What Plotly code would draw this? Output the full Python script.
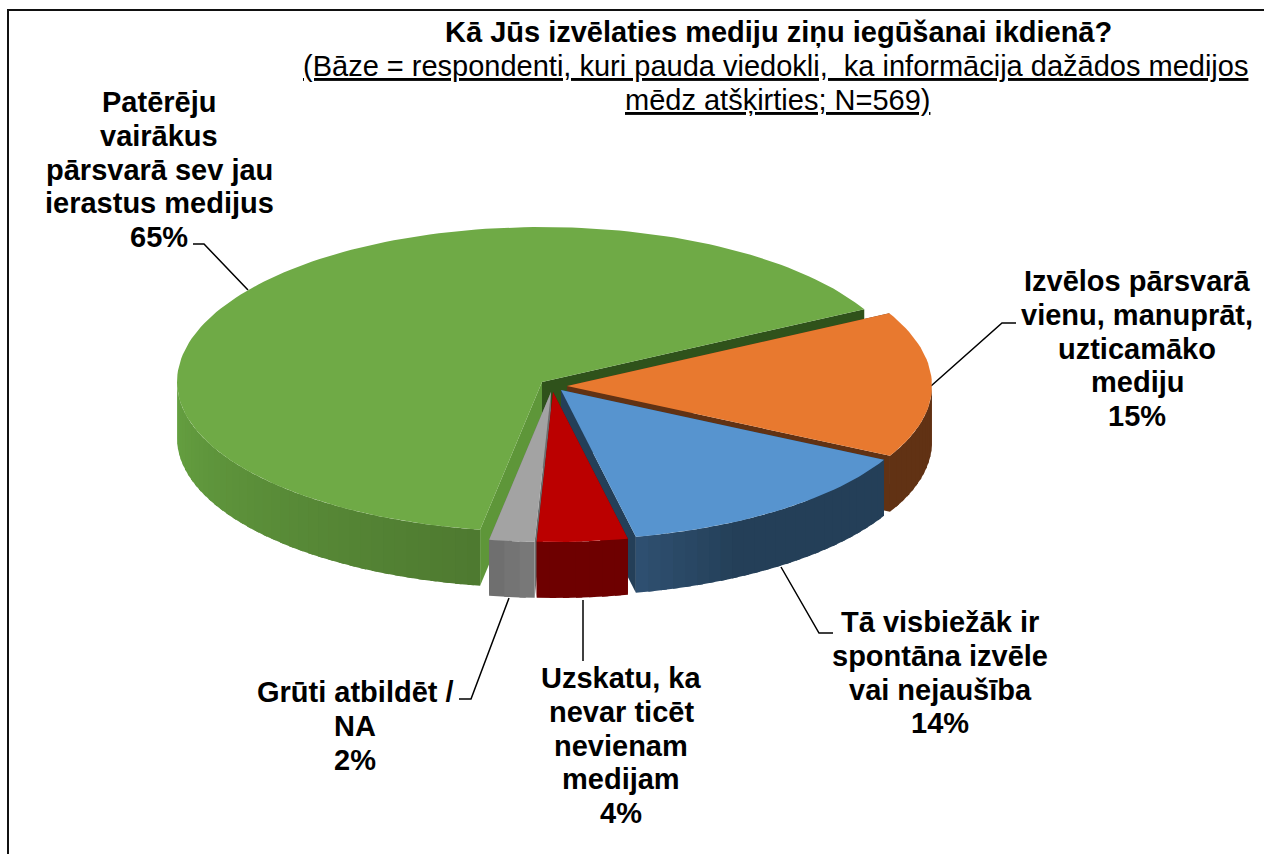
import math
import plotly.graph_objects as go

# ---- data -------------------------------------------------------------
categories = [
    "Izvēlos pārsvarā<br>vienu, manuprāt,<br>uzticamāko<br>mediju",
    "Tā visbiežāk ir<br>spontāna izvēle<br>vai nejaušība",
    "Uzskatu, ka<br>nevar ticēt<br>nevienam<br>medijam",
    "Grūti atbildēt /<br>NA",
    "Patērēju<br>vairākus<br>pārsvarā sev jau<br>ierastus medijus",
]
values = [15.49, 14.0, 4.0, 2.0, 64.51]
title_line = "Kā Jūs izvēlaties mediju ziņu iegūšanai ikdienā?"
subtitle_lines = ["(Bāze = respondenti, kuri pauda viedokli,  ka informācija dažādos medijos",
                  "mēdz atšķirties; N=569)"]

# ---- styles / layout --------------------------------------------------
W, H = 1264, 854
START_ANGLE = 28.0
A, B_FRONT, B_BACK, DEPTH = 365, 150, 155, 56
centres = [(567, 386), (561, 390), (553, 392), (551, 392), (542, 382)]
top_colors = ["#E8792F", "#5794CF", "#BB0000", "#A3A3A3", "#6FAA46"]
wall_left = ["#613214", "#2F5071", "#6E0000", "#6D6D6D", "#66A141"]
wall_right = ["#613214", "#243F58", "#6E0000", "#7A7A7A", "#4E7A30"]
wall_speed = [1, 3, 1, 1, 1]
face_start = ["#613214", "#243F58", "#6E0000", "#6D6D6D", "#5E9639"]
face_end = ["#613214", "#243F58", "#6E0000", "#6D6D6D", "#2F521B"]
draw_order = [4, 0, 1, 3, 2]
label_first_line = [(1137, 281), (940, 622), (621, 678), (355, 692), (159, 102)]
LINE_STEP = 33.8
leaders = [
    "M931,386 L1002,323 L1016,323",
    "M781,567 L819,633 L833,633",
    "M583,600 L583,661",
    "M509,598 L471,699 L459,699",
    "M193,244 L204,244 L248,290",
]
FONT = "Liberation Sans, Arial, sans-serif"
LABEL_SIZE = 29
TITLE_Y = 32


def rim(cx, cy, t):
    r = math.radians(t)
    s = math.sin(r)
    return cx + A * math.cos(r), cy - (B_BACK if s > 0 else B_FRONT) * s


def hex_mix(c1, c2, f):
    a = [int(c1[i:i + 2], 16) for i in (1, 3, 5)]
    b = [int(c2[i:i + 2], 16) for i in (1, 3, 5)]
    return "#%02X%02X%02X" % tuple(round(p + (q - p) * f) for p, q in zip(a, b))


def poly(xs, ys, color, name=None):
    return go.Scatter(
        x=xs, y=ys, mode="lines", fill="toself", fillcolor=color,
        line=dict(color=color, width=0),
        hoverinfo="skip" if name is None else "text",
        text=name, showlegend=False,
    )


# angle span of every slice, from the values
total = sum(values)
spans = []
angle = START_ANGLE
for v in values:
    next_angle = angle - 360 * v / total
    spans.append((angle, next_angle))
    angle = next_angle

fig = go.Figure()
for i in draw_order:
    cx, cy = centres[i]
    a0, a1 = spans[i]
    # cut faces
    for t, col in ((a0, face_start[i]), (a1, face_end[i])):
        rx, ry = rim(cx, cy, t)
        fig.add_trace(poly([cx, rx, rx, cx, cx], [cy, ry, ry + DEPTH, cy + DEPTH, cy], col))
    # outer wall (front half only), shaded left to right
    lo, hi = max(a1, -180), min(a0, 0)
    if hi > lo:
        n = max(1, int((hi - lo) / 2))
        for k in range(n):
            t0 = lo + (hi - lo) * k / n
            t1 = min(hi, lo + (hi - lo) * (k + 1) / n + 1.0)
            arc = [t0 + (t1 - t0) * j / 3 for j in range(4)]
            top = [rim(cx, cy, t) for t in arc]
            xs = [p[0] for p in top] + [p[0] for p in reversed(top)] + [top[0][0]]
            ys = [p[1] for p in top] + [p[1] + DEPTH for p in reversed(top)] + [top[0][1]]
            f = min(1.0, (k + 0.5) / n * wall_speed[i])
            fig.add_trace(poly(xs, ys, hex_mix(wall_left[i], wall_right[i], f)))
    # top surface
    steps = max(8, int((a0 - a1) / 1.5))
    pts = [rim(cx, cy, a0 - (a0 - a1) * j / steps) for j in range(steps + 1)]
    xs = [cx] + [p[0] for p in pts] + [cx]
    ys = [cy] + [p[1] for p in pts] + [cy]
    fig.add_trace(poly(xs, ys, top_colors[i],
                       f"{categories[i].replace('<br>', ' ')}: {round(values[i])}%"))


def text_line(x, y, text):
    return dict(x=x, y=y, xref="x", yref="y", xanchor="center", yanchor="middle",
                align="center", showarrow=False, text=text,
                font=dict(family=FONT, size=LABEL_SIZE, color="#000000"))


annotations = []
for cat, v, (lx, ly) in zip(categories, values, label_first_line):
    for k, line in enumerate(cat.split("<br>") + [f"{round(v)}%"]):
        annotations.append(text_line(lx, ly + k * LINE_STEP, f"<b>{line}</b>"))
annotations.append(text_line(778, TITLE_Y, f"<b>{title_line}</b>"))
annotations.append(text_line(775, TITLE_Y + LINE_STEP, f"<u>{subtitle_lines[0]}</u>"))
annotations.append(text_line(777, TITLE_Y + 2 * LINE_STEP, f"<u>{subtitle_lines[1]}</u>"))

shapes = [dict(type="path", path=p, xref="x", yref="y", line=dict(color="#000000", width=1.5),
               layer="below") for p in leaders]
shapes.append(dict(type="path", path=f"M8,{H} L8,10 L{W},10", xref="x", yref="y",
                   line=dict(color="#111111", width=2), layer="below"))

fig.update_layout(
    width=W, height=H, autosize=False,
    margin=dict(l=0, r=0, t=0, b=0),
    paper_bgcolor="#FFFFFF", plot_bgcolor="#FFFFFF",
    xaxis=dict(range=[0, W], visible=False, fixedrange=True),
    yaxis=dict(range=[H, 0], visible=False, fixedrange=True),
    showlegend=False, annotations=annotations, shapes=shapes,
)
fig.write_html("out.html", config={"displayModeBar": False},
               post_script="document.body.style.margin='0';document.body.style.overflow='hidden';")
